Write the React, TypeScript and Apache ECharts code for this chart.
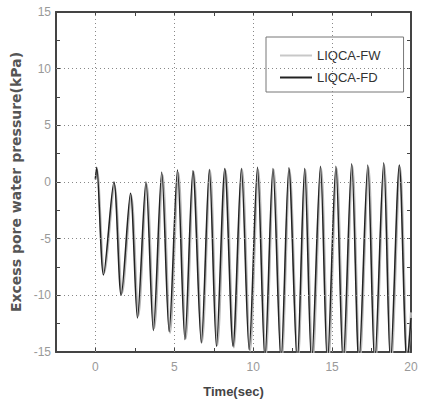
import React, { useEffect, useRef } from "react";
import * as echarts from "echarts";

const seriesNames = ["LIQCA-FW", "LIQCA-FD"];

// LIQCA-FD (black)
const fdTime = [0, 0.08, 0.51, 1.17, 1.63, 2.22, 2.66, 3.2, 3.67, 4.2, 4.67, 5.2, 5.67, 6.18, 6.71, 7.22, 7.67, 8.2, 8.72, 9.25, 9.74, 10.27, 10.74, 11.25, 11.76, 12.26, 12.79, 13.26, 13.7, 14.26, 14.7, 15.24, 15.7, 16.24, 16.7, 17.26, 17.7, 18.27, 18.7, 19.26, 19.75, 20];
const fdValue = [0.3, 1.3, -8.2, 0.0, -10.0, -1.0, -12.0, 0.0, -13.1, 0.85, -13.2, 1.05, -13.9, 1.0, -14.2, 1.1, -14.5, 1.2, -14.5, 1.2, -14.8, 1.3, -15.6, 1.2, -15.8, 1.25, -15.9, 1.2, -16, 1.4, -16, 1.4, -16, 1.6, -16, 1.5, -16, 1.7, -16, 1.5, -16, -12];

// LIQCA-FW (light grey)
const fwTime = [0, 0.1, 0.56, 1.21, 1.69, 2.27, 2.72, 3.25, 3.73, 4.26, 4.73, 5.26, 5.73, 6.23, 6.76, 7.27, 7.73, 8.26, 8.77, 9.3, 9.8, 10.32, 10.79, 11.3, 11.81, 12.31, 12.83, 13.31, 13.76, 14.31, 14.76, 15.29, 15.76, 16.29, 16.75, 17.31, 17.75, 18.31, 18.75, 19.31, 19.79, 20];
const fwValue = [0.2, 1.1, -8.0, -0.3, -9.8, -1.2, -11.8, -0.2, -12.9, 0.6, -13.3, 0.8, -13.8, 0.9, -14.1, 1.0, -14.4, 1.0, -14.6, 1.1, -14.9, 1.1, -15.5, 1.1, -15.7, 1.1, -15.8, 1.1, -16, 1.2, -16, 1.2, -16, 1.4, -16, 1.3, -16, 1.5, -16, 1.3, -16, -11.5];

const xGridValues = [0, 5, 10, 15];
const yGridValues = [-10, -5, 0, 5, 10];

const X_MIN = -2.5;
const X_MAX = 20;
const Y_MIN = -15;
const Y_MAX = 15;

const zip = (t: number[], v: number[]) => t.map((x, i) => [x, v[i]]);

export default function App() {
  const ref = useRef<HTMLDivElement>(null);
  useEffect(() => {
    if (!ref.current) return;
    const chart = echarts.init(ref.current, undefined, { renderer: "svg" });
    const axisLine = { show: true, onZero: false, lineStyle: { color: "#444", width: 2 } };
    const tick = { show: true, inside: true, length: 4, lineStyle: { color: "#444", width: 1 } };
    const labelFmt = (v: number) => (Math.abs(v % 5) < 1e-9 ? String(v) : "");
    const gridLine = { type: [1, 3] as any, color: "#888", width: 1 };
    chart.setOption({
      animation: false,
      backgroundColor: "#fff",
      textStyle: { fontFamily: "Liberation Sans" },
      grid: { left: 56, top: 12, right: 13, bottom: 50, containLabel: false },
      legend: {
        data: [
          { name: seriesNames[0], icon: "rect", itemStyle: { color: "#c8c8c8" } },
          { name: seriesNames[1], icon: "rect", itemStyle: { color: "#222" } },
        ],
        orient: "vertical",
        left: 266,
        top: 37,
        padding: [11, 23, 7, 14],
        itemGap: 7,
        itemWidth: 32,
        itemHeight: 2,
        backgroundColor: "#fff",
        borderColor: "#777",
        borderWidth: 1,
        textStyle: { fontSize: 13, color: "#333", fontFamily: "Liberation Sans", lineHeight: 15 },
      },
      xAxis: [
        {
          type: "value",
          position: "bottom",
          min: X_MIN,
          max: X_MAX,
          interval: 2.5,
          axisLine,
          axisTick: tick,
          splitLine: { show: false },
          axisLabel: { formatter: labelFmt, color: "#999", fontSize: 12, margin: 9 },
          name: "Time(sec)",
          nameLocation: "middle",
          nameGap: 33,
          nameTextStyle: { fontSize: 13, fontWeight: "bold", color: "#444", fontFamily: "Liberation Sans" },
        },
        {
          type: "value",
          position: "top",
          min: X_MIN,
          max: X_MAX,
          interval: 2.5,
          axisLine,
          axisTick: tick,
          splitLine: { show: false },
          axisLabel: { show: false },
        },
      ],
      yAxis: [
        {
          type: "value",
          position: "left",
          min: Y_MIN,
          max: Y_MAX,
          interval: 2.5,
          axisLine,
          axisTick: tick,
          splitLine: { show: false },
          axisLabel: { formatter: labelFmt, color: "#999", fontSize: 12, margin: 5 },
          name: "Excess pore water pressure(kPa)",
          nameLocation: "middle",
          nameGap: 29,
          nameTextStyle: { fontSize: 14, fontWeight: "bold", color: "#555", fontFamily: "DejaVu Sans" },
        },
        {
          type: "value",
          position: "right",
          min: Y_MIN,
          max: Y_MAX,
          interval: 2.5,
          axisLine,
          axisTick: tick,
          splitLine: { show: false },
          axisLabel: { show: false },
        },
      ],
      series: [
        {
          name: "grid",
          type: "line",
          z: 1,
          data: [],
          silent: true,
          markLine: {
            silent: true,
            symbol: ["none", "none"],
            label: { show: false },
            lineStyle: gridLine,
            data: [
              ...xGridValues.map((x) => ({ xAxis: x })),
              ...yGridValues.map((y) => ({ yAxis: y })),
            ],
          },
        },
        {
          name: seriesNames[0],
          type: "line",
          z: 2,
          data: zip(fwTime, fwValue),
          symbol: "none",
          smooth: 0.3,
          clip: true,
          lineStyle: { color: "#b5b5b5", width: 2.2 },
          itemStyle: { color: "#b5b5b5" },
        },
        {
          name: seriesNames[1],
          type: "line",
          z: 3,
          data: zip(fdTime, fdValue),
          symbol: "none",
          smooth: 0.3,
          clip: true,
          lineStyle: { color: "#222", width: 1.5 },
          itemStyle: { color: "#222" },
        },
      ],
    });
    return () => chart.dispose();
  }, []);
  return <div ref={ref} style={{ position: "fixed", left: 0, top: 0, width: 424, height: 403 }} />;
}
